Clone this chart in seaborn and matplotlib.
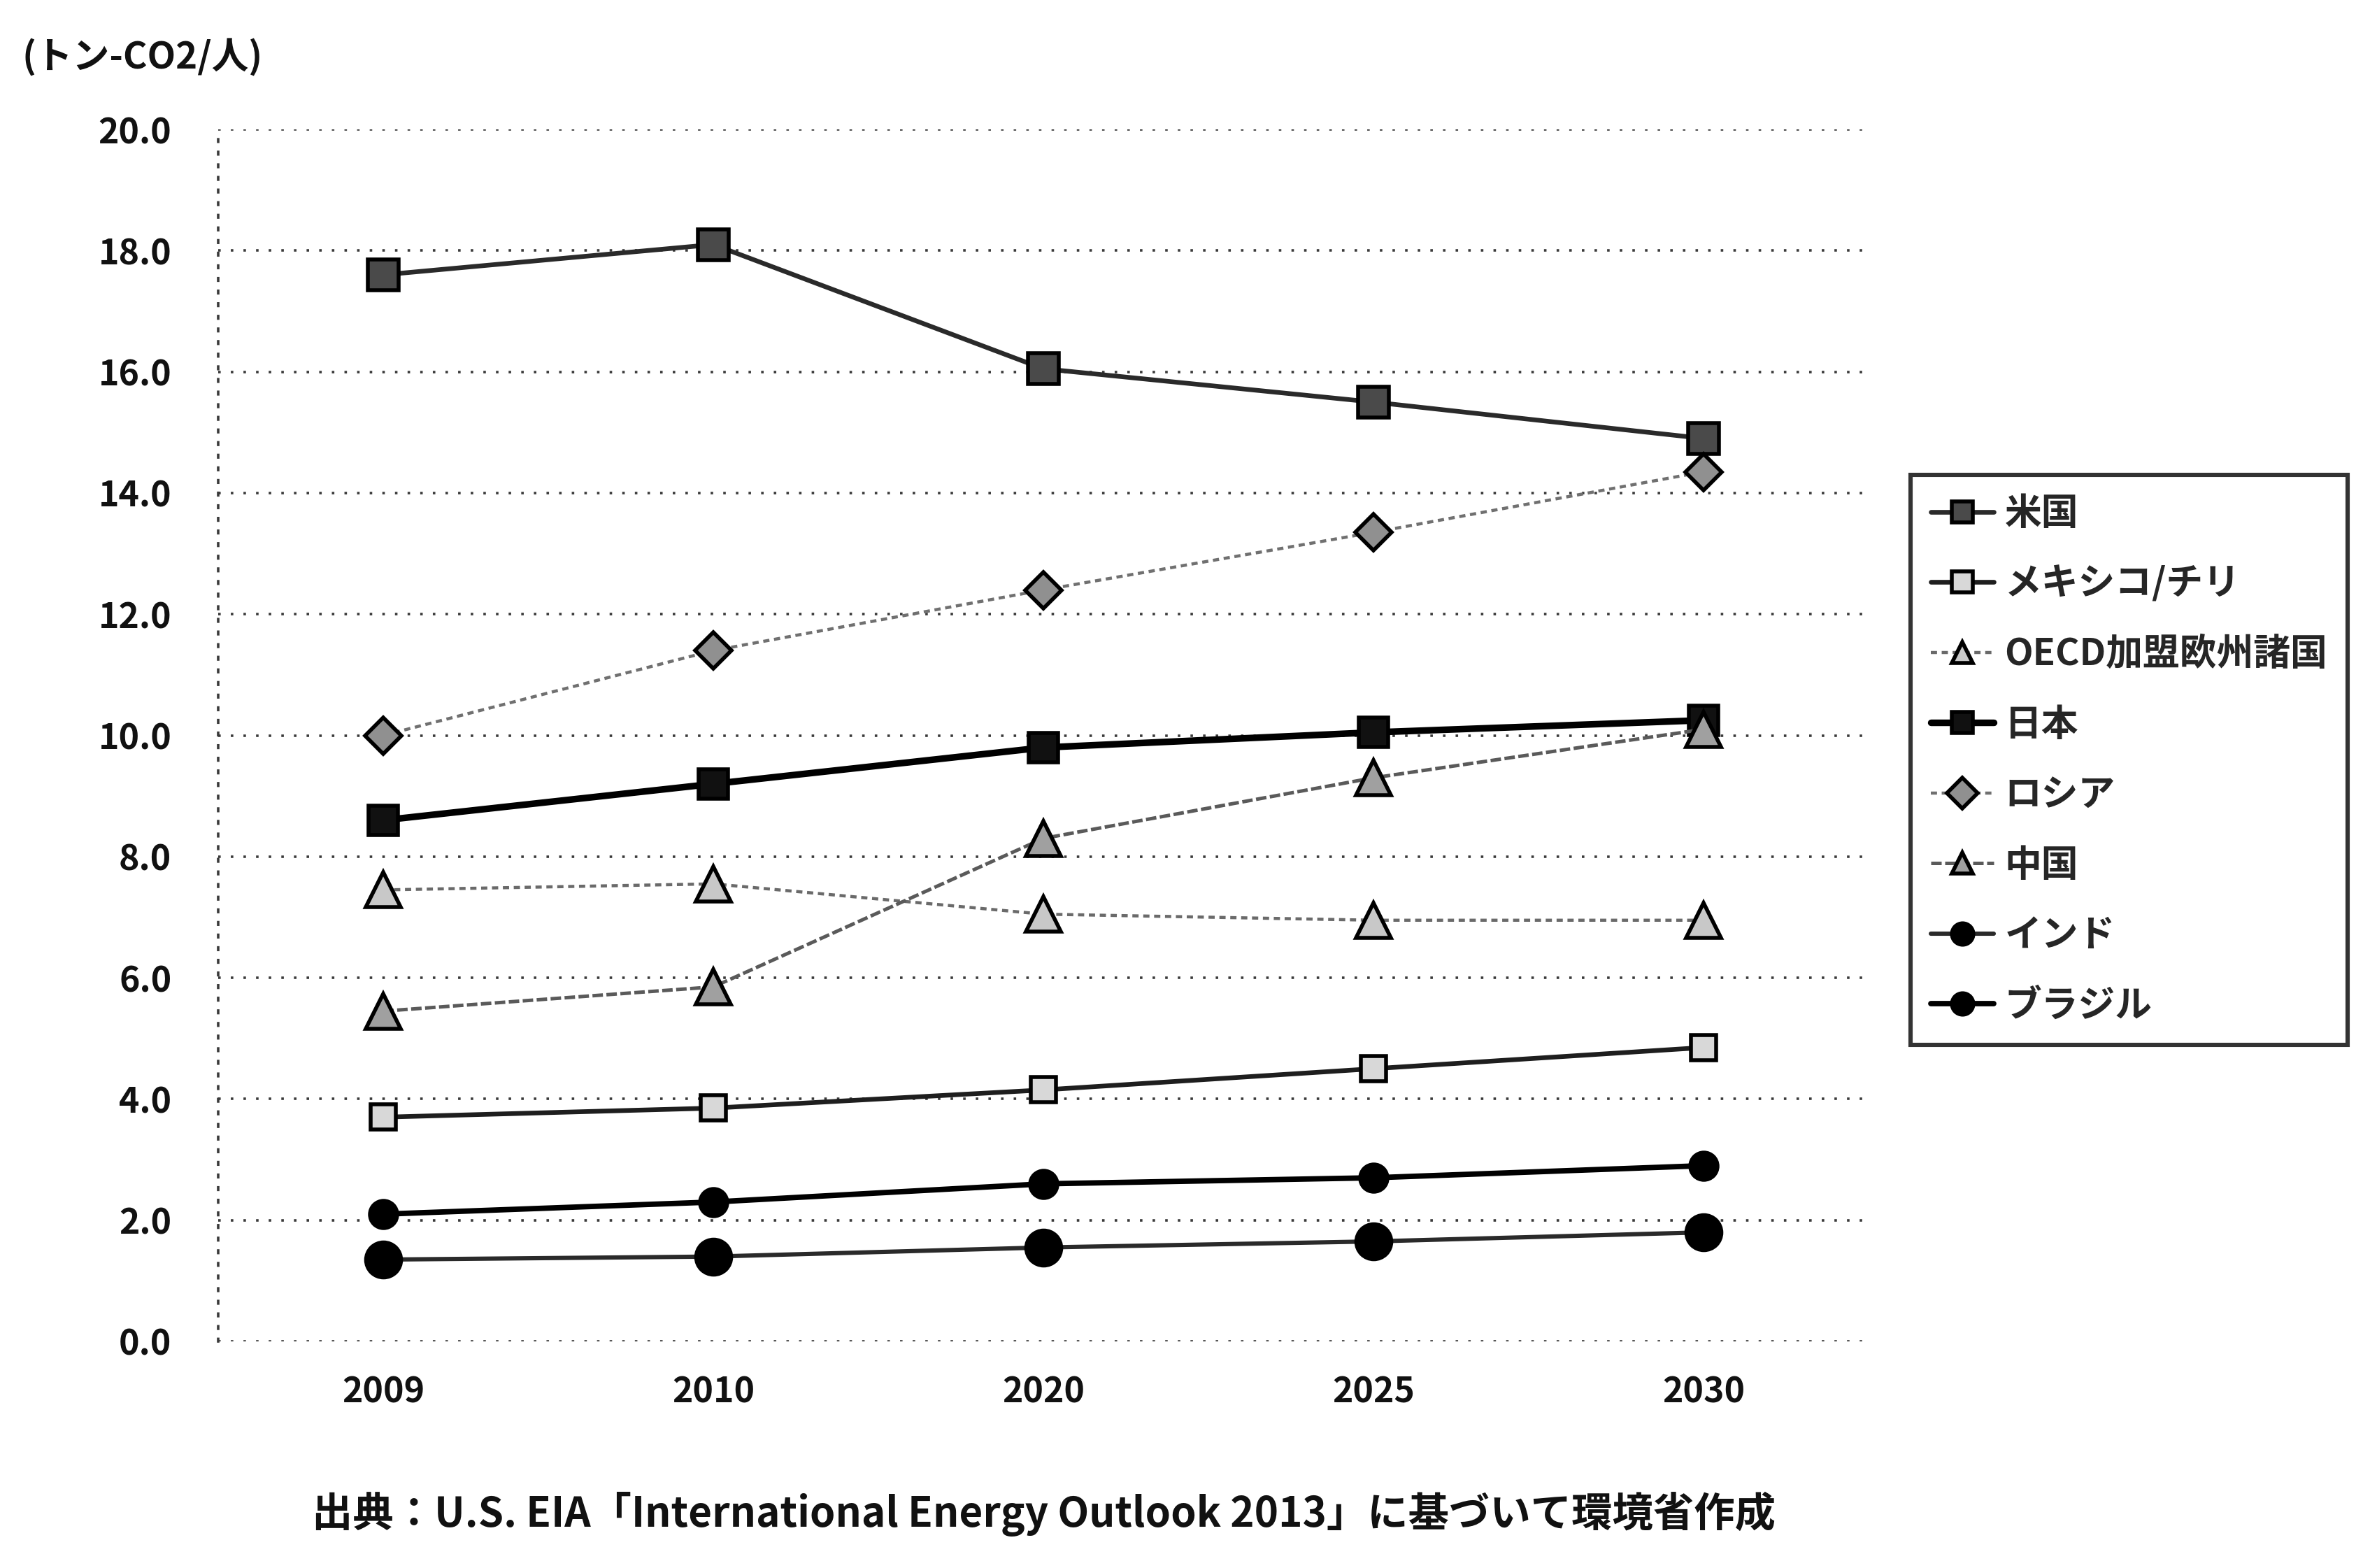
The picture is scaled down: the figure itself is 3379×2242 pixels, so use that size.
import matplotlib
matplotlib.use("Agg")
import matplotlib.pyplot as plt
import seaborn as sns
import pandas as pd

# Per-capita energy-related CO2 emissions (t-CO2 per person)
years = ["2009", "2010", "2020", "2025", "2030"]
series_names = ["米国", "メキシコ/チリ", "OECD加盟欧州諸国", "日本", "ロシア", "中国", "インド", "ブラジル"]

usa = [17.6, 18.1, 16.05, 15.5, 14.9]
mexico_chile = [3.7, 3.85, 4.15, 4.5, 4.85]
oecd_europe = [7.45, 7.55, 7.05, 6.95, 6.95]
japan = [8.6, 9.2, 9.8, 10.05, 10.25]
russia = [10.0, 11.4, 12.4, 13.35, 14.35]
china = [5.45, 5.85, 8.3, 9.3, 10.1]
india = [1.35, 1.4, 1.55, 1.65, 1.8]
brazil = [2.1, 2.3, 2.6, 2.7, 2.9]

y_ticks = [0, 2, 4, 6, 8, 10, 12, 14, 16, 18, 20]
unit_label = "(トン-CO2/人)"
source_note = "出典：U.S. EIA「International Energy Outlook 2013」に基づいて環境省作成"

values = [usa, mexico_chile, oecd_europe, japan, russia, china, india, brazil]
df = pd.DataFrame(
    [(name, yr, v) for name, vals in zip(series_names, values) for yr, v in zip(years, vals)],
    columns=["series", "year", "value"],
)

styles = {
    "米国":           dict(color="#2a2a2a", lw=2.4, ls="-",  marker="s", ms=16, mfc="#4a4a4a"),
    "メキシコ/チリ":   dict(color="#1e1e1e", lw=2.4, ls="-",  marker="s", ms=13, mfc="#d8d8d8"),
    "OECD加盟欧州諸国": dict(color="#6a6a6a", lw=1.6, ls=(0, (2, 1.5)), marker="^", ms=18, mfc="#c8c8c8"),
    "日本":           dict(color="#000000", lw=3.4, ls="-",  marker="s", ms=15, mfc="#111111"),
    "ロシア":         dict(color="#707070", lw=1.6, ls=(0, (2, 1.5)), marker="D", ms=13, mfc="#909090"),
    "中国":           dict(color="#5a5a5a", lw=1.8, ls=(0, (3, 1)), marker="^", ms=18, mfc="#a0a0a0"),
    "インド":         dict(color="#2a2a2a", lw=2.2, ls="-",  marker="o", ms=18, mfc="#000000"),
    "ブラジル":       dict(color="#000000", lw=2.8, ls="-",  marker="o", ms=14, mfc="#000000"),
}

sns.set_theme(style="white")
plt.rcParams["font.family"] = ["Noto Sans CJK JP", "DejaVu Sans"]

fig = plt.figure(figsize=(3379 / 200, 2242 / 200), dpi=200)
ax = fig.add_axes([312 / 3379, 1 - 1918 / 2242, (2672 - 312) / 3379, (1918 - 185) / 2242])

for name in series_names:
    st = styles[name]
    sub = df[df["series"] == name]
    sns.lineplot(
        data=sub, x="year", y="value", ax=ax, label=name,
        color=st["color"], linewidth=st["lw"], linestyle=st["ls"],
        marker=st["marker"], markersize=st["ms"],
        markerfacecolor=st["mfc"], markeredgecolor="#000000", markeredgewidth=2.0,
        sort=False, zorder=3,
    )

ax.set_xlim(-0.5, 4.5)
ax.set_ylim(0, 20)
ax.set_yticks(y_ticks)
ax.set_yticklabels([f"{t:.1f}" for t in y_ticks])
ax.set_xlabel("")
ax.set_ylabel("")

ax.yaxis.grid(True, color="#3a3a3a", linestyle=(0, (1, 4)), linewidth=1.3)
ax.xaxis.grid(False)
for side in ["top", "right", "bottom"]:
    ax.spines[side].set_visible(False)
ax.spines["left"].set_linestyle((0, (1, 4)))
ax.spines["left"].set_color("#3a3a3a")
ax.spines["left"].set_linewidth(1.3)

ax.tick_params(axis="both", length=0, labelsize=18, colors="#111111")
ax.tick_params(axis="y", pad=24)
ax.tick_params(axis="x", pad=17)
for lbl in ax.get_xticklabels() + ax.get_yticklabels():
    lbl.set_fontweight("bold")

leg = ax.legend(
    loc="upper left", bbox_to_anchor=(2732 / 3379, 1 - 679 / 2242),
    bbox_transform=fig.transFigure, frameon=True, fancybox=False,
    fontsize=19, handlelength=1.7, handletextpad=0.3, labelspacing=0.9,
    borderpad=0.55, borderaxespad=0,
)
leg.get_frame().set_edgecolor("#000000")
leg.get_frame().set_linewidth(2.2)
for t in leg.get_texts():
    t.set_fontweight("bold")
for h in leg.legend_handles:
    h.set_markersize(11)

fig.text(32 / 3379, 1 - 82 / 2242, unit_label, fontsize=19, fontweight="bold",
         ha="left", va="center", color="#111111")
fig.text(1492 / 3379, 1 - 2165 / 2242, source_note, fontsize=21, fontweight="bold",
         ha="center", va="center", color="#111111")

fig.savefig("out.png", dpi=200, facecolor="white")
